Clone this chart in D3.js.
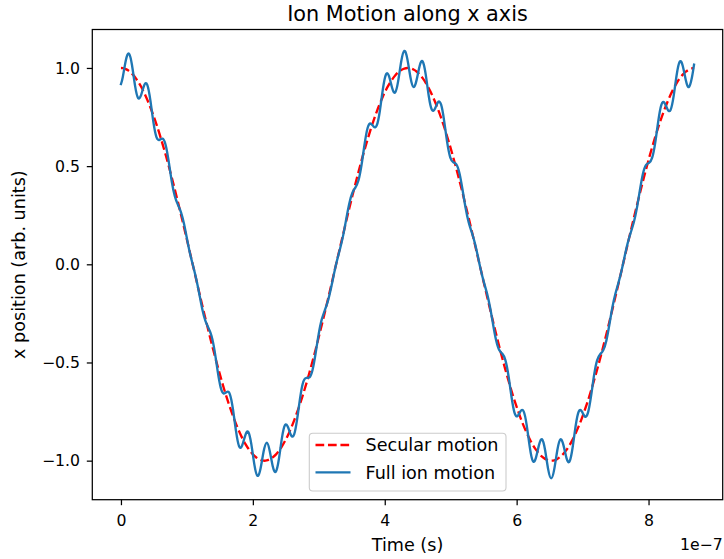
<!DOCTYPE html>
<html>
<head>
<meta charset="utf-8">
<script src="https://cdn.jsdelivr.net/npm/d3@7"></script>
<style>
  body { margin: 0; background: #fff; }
  svg { display: block; }
  text { font-family: "DejaVu Sans", sans-serif; fill: #000; }
</style>
</head>
<body>
<svg id="chart" width="724" height="559"></svg>
<script>
// time in units of 1e-7 s
const timeE7 = [
  0, 0.0280, 0.0744,
  0.1208, 0.1672, 0.2136, 0.2600, 0.3064, 0.3528, 0.3992, 0.4456, 0.4920, 0.5384,
  0.5848, 0.6312, 0.6776, 0.7240, 0.7704, 0.8168, 0.8632, 0.9096, 0.9560, 1.0024,
  1.0488, 1.0952, 1.1416, 1.1880, 1.2344, 1.2808, 1.3272, 1.3736, 1.4200, 1.4664,
  1.5128, 1.5592, 1.6056, 1.6520, 1.6984, 1.7448, 1.7912, 1.8376, 1.8840, 1.9304,
  1.9768, 2.0232, 2.0696, 2.1160, 2.1624, 2.2088, 2.2552, 2.3016, 2.3480, 2.3944,
  2.4408, 2.4872, 2.5336, 2.5800, 2.6264, 2.6728, 2.7192, 2.7656, 2.8120, 2.8584,
  2.9048, 2.9512, 2.9976, 3.0440, 3.0904, 3.1368, 3.1832, 3.2296, 3.2760, 3.3224,
  3.3688, 3.4152, 3.4616, 3.5080, 3.5544, 3.6008, 3.6472, 3.6936, 3.7400, 3.7864,
  3.8328, 3.8792, 3.9256, 3.9720, 4.0184, 4.0648, 4.1112, 4.1576, 4.2040, 4.2504,
  4.2968, 4.3432, 4.3896, 4.4360, 4.4824, 4.5288, 4.5752, 4.6216, 4.6680, 4.7144,
  4.7608, 4.8072, 4.8536, 4.9000, 4.9464, 4.9928, 5.0392, 5.0856, 5.1320, 5.1784,
  5.2248, 5.2712, 5.3176, 5.3640, 5.4104, 5.4568, 5.5032, 5.5496, 5.5960, 5.6424,
  5.6888, 5.7352, 5.7816, 5.8280, 5.8744, 5.9208, 5.9672, 6.0136, 6.0600, 6.1064,
  6.1528, 6.1992, 6.2456, 6.2920, 6.3384, 6.3848, 6.4312, 6.4776, 6.5240, 6.5704,
  6.6168, 6.6632, 6.7096, 6.7560, 6.8024, 6.8488, 6.8952, 6.9416, 6.9880, 7.0344,
  7.0808, 7.1272, 7.1736, 7.2200, 7.2664, 7.3128, 7.3592, 7.4056, 7.4520, 7.4984,
  7.5448, 7.5912, 7.6376, 7.6840, 7.7304, 7.7768, 7.8232, 7.8696, 7.9160, 7.9624,
  8.0088, 8.0552, 8.1016, 8.1480, 8.1944, 8.2408, 8.2872, 8.3336, 8.3800, 8.4264,
  8.4728, 8.5192, 8.5656, 8.6120, 8.6584, 8.6900
];

const secularMotion = [
  1.000, 0.999, 0.994,
  0.985, 0.971, 0.953, 0.930, 0.904, 0.873, 0.838, 0.800, 0.758, 0.713,
  0.664, 0.612, 0.558, 0.501, 0.442, 0.381, 0.318, 0.254, 0.189, 0.123,
  0.056, -0.011, -0.078, -0.145, -0.211, -0.276, -0.339, -0.402, -0.462, -0.520,
  -0.576, -0.630, -0.680, -0.728, -0.772, -0.813, -0.850, -0.884, -0.913, -0.938,
  -0.959, -0.976, -0.988, -0.996, -1.000, -0.999, -0.993, -0.983, -0.969, -0.950,
  -0.927, -0.900, -0.869, -0.834, -0.795, -0.752, -0.707, -0.658, -0.606, -0.551,
  -0.494, -0.435, -0.373, -0.310, -0.246, -0.181, -0.114, -0.047, 0.020, 0.086,
  0.153, 0.219, 0.284, 0.347, 0.409, 0.469, 0.528, 0.583, 0.636, 0.687,
  0.734, 0.778, 0.818, 0.855, 0.888, 0.916, 0.941, 0.962, 0.978, 0.990,
  0.997, 1.000, 0.998, 0.992, 0.982, 0.967, 0.948, 0.924, 0.896, 0.865,
  0.829, 0.790, 0.747, 0.701, 0.651, 0.599, 0.544, 0.487, 0.427, 0.366,
  0.302, 0.238, 0.172, 0.106, 0.039, -0.028, -0.095, -0.161, -0.227, -0.292,
  -0.355, -0.417, -0.477, -0.535, -0.590, -0.643, -0.693, -0.739, -0.783, -0.823,
  -0.859, -0.891, -0.920, -0.944, -0.964, -0.980, -0.991, -0.998, -1.000, -0.998,
  -0.991, -0.980, -0.965, -0.945, -0.921, -0.893, -0.860, -0.824, -0.785, -0.741,
  -0.695, -0.645, -0.592, -0.537, -0.479, -0.419, -0.358, -0.294, -0.230, -0.164,
  -0.098, -0.031, 0.036, 0.103, 0.170, 0.235, 0.300, 0.363, 0.425, 0.484,
  0.542, 0.597, 0.649, 0.699, 0.745, 0.788, 0.827, 0.863, 0.895, 0.923,
  0.947, 0.966, 0.981, 0.992, 0.998, 1.000
];

const fullIonMotion = [
  0.918, 0.954, 1.039,
  1.073, 1.015, 0.910, 0.847, 0.863, 0.912, 0.914, 0.836, 0.724, 0.648,
  0.634, 0.640, 0.608, 0.524, 0.422, 0.347, 0.304, 0.266, 0.206, 0.128,
  0.053, -0.010, -0.075, -0.151, -0.230, -0.288, -0.324, -0.365, -0.441, -0.544,
  -0.628, -0.658, -0.650, -0.662, -0.738, -0.850, -0.927, -0.923, -0.872, -0.854,
  -0.916, -1.020, -1.077, -1.041, -0.955, -0.909, -0.949, -1.028, -1.056, -0.993,
  -0.885, -0.819, -0.830, -0.871, -0.866, -0.786, -0.675, -0.598, -0.578, -0.576,
  -0.538, -0.454, -0.357, -0.282, -0.235, -0.189, -0.125, -0.050, 0.019, 0.079,
  0.146, 0.229, 0.309, 0.363, 0.391, 0.427, 0.504, 0.610, 0.694, 0.717,
  0.701, 0.708, 0.781, 0.893, 0.967, 0.958, 0.899, 0.875, 0.934, 1.034,
  1.087, 1.045, 0.953, 0.903, 0.938, 1.010, 1.033, 0.966, 0.856, 0.787,
  0.792, 0.825, 0.814, 0.732, 0.622, 0.545, 0.520, 0.509, 0.465, 0.382,
  0.289, 0.216, 0.165, 0.111, 0.043, -0.029, -0.091, -0.147, -0.217, -0.305,
  -0.387, -0.436, -0.455, -0.487, -0.564, -0.672, -0.755, -0.773, -0.748, -0.749,
  -0.820, -0.931, -1.002, -0.986, -0.921, -0.891, -0.946, -1.043, -1.090, -1.043,
  -0.947, -0.892, -0.921, -0.987, -1.004, -0.933, -0.822, -0.750, -0.749, -0.775,
  -0.757, -0.674, -0.566, -0.489, -0.458, -0.438, -0.390, -0.308, -0.219, -0.149,
  -0.093, -0.032, 0.040, 0.108, 0.162, 0.214, 0.286, 0.379, 0.463, 0.506,
  0.517, 0.543, 0.620, 0.730, 0.812, 0.823, 0.790, 0.786, 0.855, 0.964,
  1.032, 1.010, 0.937, 0.903, 0.953, 1.017
];

const xTickValues = [0, 2, 4, 6, 8];
const yTickValues = [-1.0, -0.5, 0.0, 0.5, 1.0];
const seriesLabels = ["Secular motion", "Full ion motion"];
const titleText = "Ion Motion along x axis";
const xLabelText = "Time (s)";
const yLabelText = "x position (arb. units)";
const xOffsetText = "1e\u22127";

// ---- layout ----
const svg = d3.select("#chart");
const plot = { left: 92.3, right: 722.7, top: 29.5, bottom: 499.7 };
const fsTick = 15.7;
const fsLabel = 17.6;
const fsTitle = 20.8;

const n = Math.min(timeE7.length, secularMotion.length, fullIonMotion.length);
const secData = d3.range(n).map(i => [timeE7[i], secularMotion[i]]);
const fullData = d3.range(n).map(i => [timeE7[i], fullIonMotion[i]]);

const tExt = d3.extent(timeE7.slice(0, n));
const yExt = d3.extent(secularMotion.slice(0, n).concat(fullIonMotion.slice(0, n)));
const tPad = 0.05 * (tExt[1] - tExt[0]);
const yPad = 0.05 * (yExt[1] - yExt[0]);

const x = d3.scaleLinear().domain([tExt[0] - tPad, tExt[1] + tPad]).range([plot.left, plot.right]);
const y = d3.scaleLinear().domain([yExt[0] - yPad, yExt[1] + yPad]).range([plot.bottom, plot.top]);

const fmt = d => d3.format(".1f")(d).replace("-", "\u2212");

svg.append("defs").append("clipPath").attr("id", "clip")
  .append("rect").attr("x", plot.left).attr("y", plot.top)
  .attr("width", plot.right - plot.left).attr("height", plot.bottom - plot.top);

const line = d3.line().x(d => x(d[0])).y(d => y(d[1])).curve(d3.curveNatural);

const g = svg.append("g").attr("clip-path", "url(#clip)");
g.append("path").datum(secData)
  .attr("d", line).attr("fill", "none").attr("stroke", "#ff0000")
  .attr("stroke-width", 2.35).attr("stroke-dasharray", "8.7,3.77");
g.append("path").datum(fullData)
  .attr("d", line).attr("fill", "none").attr("stroke", "#1f77b4")
  .attr("stroke-width", 2.35).attr("stroke-linejoin", "round").attr("stroke-linecap", "square");

// axes
const xAxis = d3.axisBottom(x).tickValues(xTickValues).tickFormat(d3.format("d"))
  .tickSize(5.5).tickSizeOuter(0);
const yAxis = d3.axisLeft(y).tickValues(yTickValues).tickFormat(fmt)
  .tickSize(5.5).tickSizeOuter(0);

const gx = svg.append("g").attr("transform", `translate(0,${plot.bottom})`).call(xAxis);
const gy = svg.append("g").attr("transform", `translate(${plot.left},0)`).call(yAxis);
[gx, gy].forEach(a => {
  a.select(".domain").remove();
  a.selectAll(".tick line").attr("stroke", "#000").attr("stroke-width", 1.25);
  a.selectAll(".tick text").style("font-family", '"DejaVu Sans", sans-serif')
    .style("font-size", fsTick + "px").attr("fill", "#000");
});
gx.selectAll(".tick text").attr("y", 26.8).attr("dy", "0");
gy.selectAll(".tick text").attr("x", -12.3).attr("dy", "0.34em");

// frame
svg.append("rect").attr("x", plot.left).attr("y", plot.top)
  .attr("width", plot.right - plot.left).attr("height", plot.bottom - plot.top)
  .attr("fill", "none").attr("stroke", "#000").attr("stroke-width", 1.25);

// texts
svg.append("text").attr("x", (plot.left + plot.right) / 2).attr("y", 21)
  .attr("text-anchor", "middle").style("font-size", fsTitle + "px").text(titleText);
svg.append("text").attr("x", (plot.left + plot.right) / 2).attr("y", 551)
  .attr("text-anchor", "middle").style("font-size", fsLabel + "px").text(xLabelText);
svg.append("text").attr("x", plot.right).attr("y", 549.5)
  .attr("text-anchor", "end").style("font-size", fsTick + "px").text(xOffsetText);
svg.append("text")
  .attr("transform", `translate(25,${(plot.top + plot.bottom) / 2}) rotate(-90)`)
  .attr("text-anchor", "middle").style("font-size", fsLabel + "px").text(yLabelText);

// legend
const lg = svg.append("g");
lg.append("rect").attr("x", 309.3).attr("y", 433.3).attr("width", 196.7).attr("height", 57.7)
  .attr("rx", 3.5).attr("fill", "#fff").attr("fill-opacity", 0.8)
  .attr("stroke", "#cccccc").attr("stroke-width", 1.1);
const legendItems = [
  { label: seriesLabels[0], color: "#ff0000", dash: "8.7,3.77", yLine: 445, yText: 451.4 },
  { label: seriesLabels[1], color: "#1f77b4", dash: null, yLine: 472.3, yText: 478.7 }
];
legendItems.forEach(it => {
  const l = lg.append("line").attr("x1", 315.5).attr("x2", 350.5)
    .attr("y1", it.yLine).attr("y2", it.yLine)
    .attr("stroke", it.color).attr("stroke-width", 2.35);
  if (it.dash) l.attr("stroke-dasharray", it.dash);
  lg.append("text").attr("x", 365.5).attr("y", it.yText)
    .style("font-size", fsLabel + "px").text(it.label);
});
</script>
</body>
</html>
